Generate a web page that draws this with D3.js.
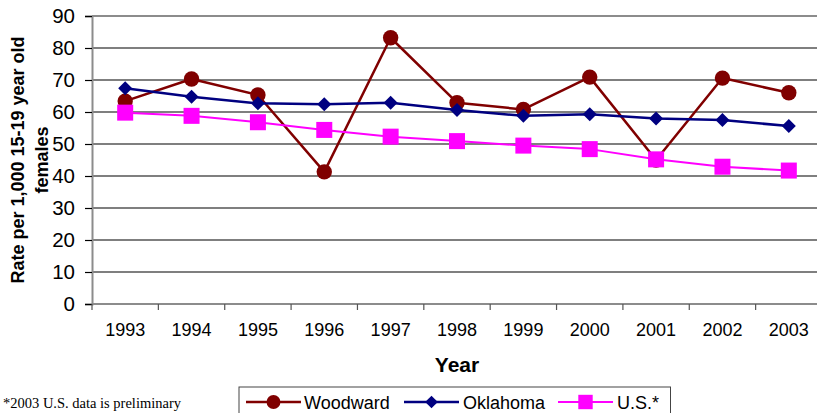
<!DOCTYPE html>
<html>
<head>
<meta charset="utf-8">
<script src="https://cdn.jsdelivr.net/npm/d3@7"></script>
<style>
  html, body { margin: 0; padding: 0; background: #fff; overflow: hidden; }
  svg { display: block; font-family: Arial, "Liberation Sans", sans-serif; }
</style>
</head>
<body>
<svg id="chart" width="817" height="413"></svg>
<script>
const years = ["1993","1994","1995","1996","1997","1998","1999","2000","2001","2002","2003"];
const woodward = [63.4, 70.3, 65.3, 41.3, 83.2, 62.9, 60.8, 70.9, 45.0, 70.6, 66.0];
const oklahoma = [67.4, 64.8, 62.7, 62.4, 62.9, 60.6, 58.8, 59.3, 58.0, 57.5, 55.6];
const us       = [59.8, 58.8, 56.8, 54.4, 52.3, 50.9, 49.5, 48.4, 45.2, 42.9, 41.7];
const yTicks = [0,10,20,30,40,50,60,70,80,90];
const seriesNames = ["Woodward","Oklahoma","U.S.*"];
const xTitle = "Year";
const yTitleLines = ["Rate per 1,000 15-19 year old", "females"];
const footnote = "*2003 U.S. data is preliminary";

const svg = d3.select("#chart");
const pLeft = 92, pRight = 822, pTop = 16, pBottom = 304;
const sans = "Arial, 'Liberation Sans', sans-serif";

const x = d3.scaleBand().domain(years).range([pLeft, pRight]).padding(0);
const y = d3.scaleLinear().domain([0, 90]).range([pBottom, pTop]);

// gridlines
svg.append("g").selectAll("line")
  .data(yTicks.filter(t => t > 0 && t < 90))
  .join("line")
  .attr("x1", pLeft).attr("x2", pRight)
  .attr("y1", d => y(d)).attr("y2", d => y(d))
  .attr("stroke", "#000").attr("stroke-width", 1.2);

// plot border top
svg.append("line").attr("x1", pLeft).attr("x2", pRight)
  .attr("y1", y(90)).attr("y2", y(90))
  .attr("stroke", "#8c8c8c").attr("stroke-width", 2);

// y axis
const yAxis = svg.append("g").attr("transform", `translate(${pLeft},0)`)
  .call(d3.axisLeft(y).tickValues(yTicks).tickSize(7).tickPadding(10).tickFormat(d3.format("d")));
yAxis.select(".domain").attr("stroke", "#8c8c8c").attr("stroke-width", 2);
yAxis.selectAll(".tick line").attr("stroke", "#000").attr("stroke-width", 1.2);
yAxis.selectAll(".tick text").attr("font-size", 20.5).attr("fill", "#000").style("font-family", sans);

// x axis labels
const xAxis = svg.append("g").attr("transform", `translate(0,${pBottom})`)
  .call(d3.axisBottom(x).tickSize(0).tickPadding(19));
xAxis.select(".domain").remove();
xAxis.selectAll(".tick text").attr("font-size", 18).attr("fill", "#000").style("font-family", sans);

// x axis line and tick marks at band boundaries
svg.append("line").attr("x1", pLeft).attr("x2", pRight)
  .attr("y1", pBottom).attr("y2", pBottom)
  .attr("stroke", "#8c8c8c").attr("stroke-width", 2);
svg.append("g").selectAll("line")
  .data(years.concat(["_end"]))
  .join("line")
  .attr("x1", d => d === "_end" ? pRight : x(d))
  .attr("x2", d => d === "_end" ? pRight : x(d))
  .attr("y1", pBottom).attr("y2", pBottom + 6)
  .attr("stroke", "#555").attr("stroke-width", 1.2);

// titles
svg.append("text").attr("x", (pLeft + pRight) / 2).attr("y", 372)
  .attr("text-anchor", "middle").attr("font-size", 21).attr("font-weight", "bold")
  .style("font-family", sans).text(xTitle);

const yt = svg.append("g");
yt.append("text").attr("transform", `translate(23.5,${(pTop + pBottom) / 2}) rotate(-90)`)
  .attr("text-anchor", "middle").attr("font-size", 18).attr("font-weight", "bold")
  .style("font-family", sans).text(yTitleLines[0]);
yt.append("text").attr("transform", `translate(47.5,${(pTop + pBottom) / 2}) rotate(-90)`)
  .attr("text-anchor", "middle").attr("font-size", 18).attr("font-weight", "bold")
  .style("font-family", sans).text(yTitleLines[1]);

// series
const cx = d => x(d) + x.bandwidth() / 2;
const series = [
  { name: seriesNames[0], values: woodward, color: "#800000", width: 2.5, marker: "circle" },
  { name: seriesNames[1], values: oklahoma, color: "#000080", width: 2.5, marker: "diamond" },
  { name: seriesNames[2], values: us, color: "#ff00ff", width: 2, marker: "square" }
];

function drawMarker(g, type, color, px, py, scale) {
  if (type === "circle") {
    g.append("circle").attr("cx", px).attr("cy", py).attr("r", 7.7 * scale).attr("fill", color);
  } else if (type === "diamond") {
    const h = 7 * scale;
    g.append("path").attr("d", `M${px},${py - h}L${px + h},${py}L${px},${py + h}L${px - h},${py}Z`).attr("fill", color);
  } else {
    const s = 16 * scale;
    g.append("rect").attr("x", px - s / 2).attr("y", py - s / 2).attr("width", s).attr("height", s).attr("fill", color);
  }
}

const line = d3.line().x((d, i) => cx(years[i])).y(d => y(d));
series.forEach(s => {
  const g = svg.append("g");
  g.append("path").datum(s.values).attr("d", line)
    .attr("fill", "none").attr("stroke", s.color).attr("stroke-width", s.width)
    .attr("stroke-linejoin", "round");
  s.values.forEach((v, i) => drawMarker(g, s.marker, s.color, cx(years[i]), y(v), 1));
});

// footnote
svg.append("text").attr("x", 3).attr("y", 408)
  .style("font-family", "'Liberation Serif', 'Times New Roman', 'DejaVu Serif', serif")
  .attr("font-size", 14.5).attr("fill", "#000").text(footnote);

// legend
const lg = svg.append("g");
lg.append("rect").attr("x", 239).attr("y", 387).attr("width", 431.5).attr("height", 40)
  .attr("fill", "#fff").attr("stroke", "#444").attr("stroke-width", 1);
const legendItems = [
  { s: series[0], x1: 246, x2: 301, tx: 304 },
  { s: series[1], x1: 404, x2: 459, tx: 463 },
  { s: series[2], x1: 558, x2: 613, tx: 617 }
];
const ly = 402;
legendItems.forEach(it => {
  lg.append("line").attr("x1", it.x1).attr("x2", it.x2).attr("y1", ly).attr("y2", ly)
    .attr("stroke", it.s.color).attr("stroke-width", it.s.width);
  drawMarker(lg, it.s.marker, it.s.color, (it.x1 + it.x2) / 2, ly, 0.9);
  lg.append("text").attr("x", it.tx).attr("y", ly + 6.5).attr("font-size", 18).attr("fill", "#000")
    .style("font-family", sans).text(it.s.name);
});
</script>
</body>
</html>
